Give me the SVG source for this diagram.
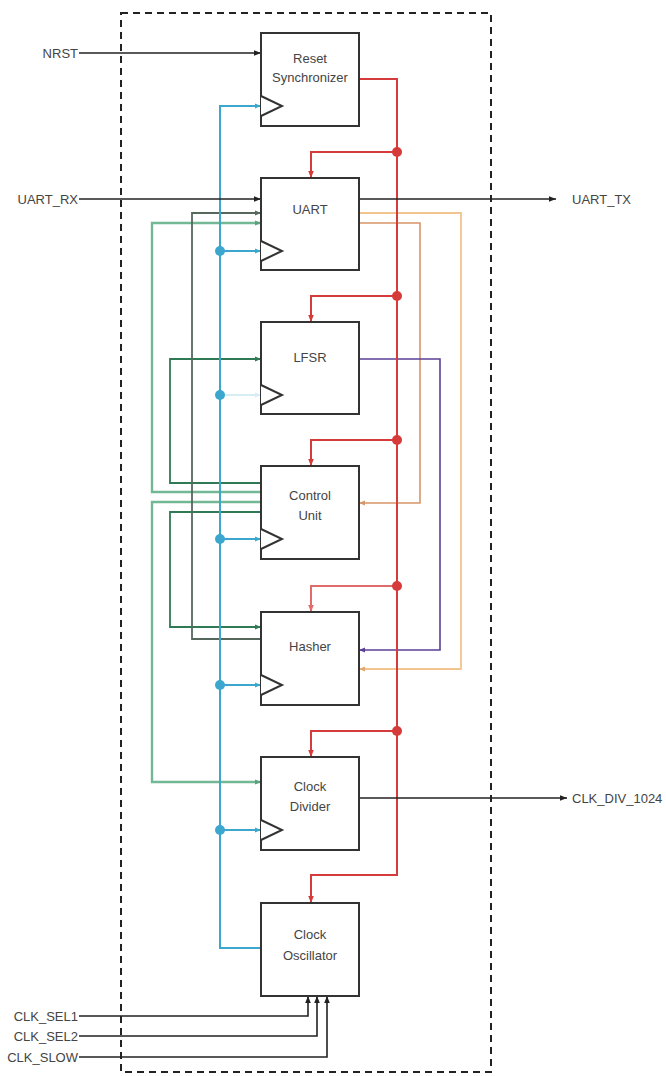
<svg xmlns="http://www.w3.org/2000/svg" width="666" height="1076" viewBox="0 0 666 1076">
<style>
.box{fill:#fff;stroke:#333;stroke-width:2}
.clk{fill:#fff;stroke:#333;stroke-width:2;stroke-linejoin:miter}
.lbl{font-family:"Liberation Sans",Arial,sans-serif;font-size:13px;fill:#444;text-anchor:middle}
.io{font-family:"Liberation Sans",Arial,sans-serif;font-size:13px;fill:#444}
.w{fill:none;stroke-linejoin:miter}
.k{stroke:#222;stroke-width:1.6}
.r{stroke:#d63b3b;stroke-width:2}
.b{stroke:#3ba7cf;stroke-width:2}
.g1{stroke:#2f7a55;stroke-width:1.8}
.g2{stroke:#72b894;stroke-width:2.4}
.g3{stroke:#56685c;stroke-width:1.8}
.o1{stroke:#f2c48e;stroke-width:1.8}
.o2{stroke:#d8956a;stroke-width:1.6}
.p{stroke:#5b3f96;stroke-width:1.6}
</style>
<defs>
<marker id="ak" viewBox="0 0 10 10" refX="10" refY="5" markerWidth="7" markerHeight="7" markerUnits="userSpaceOnUse" orient="auto"><path d="M0,1 L10,5 L0,9 z" fill="#222"/></marker>
<marker id="ar" viewBox="0 0 10 10" refX="10" refY="5" markerWidth="7" markerHeight="7" markerUnits="userSpaceOnUse" orient="auto"><path d="M0,1 L10,5 L0,9 z" fill="#d63b3b"/></marker>
<marker id="ab" viewBox="0 0 10 10" refX="10" refY="5" markerWidth="6" markerHeight="6" markerUnits="userSpaceOnUse" orient="auto"><path d="M0,1 L10,5 L0,9 z" fill="#3ba7cf"/></marker>
<marker id="ag1" viewBox="0 0 10 10" refX="10" refY="5" markerWidth="6" markerHeight="6" markerUnits="userSpaceOnUse" orient="auto"><path d="M0,1 L10,5 L0,9 z" fill="#2f7a55"/></marker>
<marker id="ag2" viewBox="0 0 10 10" refX="10" refY="5" markerWidth="6" markerHeight="6" markerUnits="userSpaceOnUse" orient="auto"><path d="M0,1 L10,5 L0,9 z" fill="#5aa07c"/></marker>
<marker id="ag3" viewBox="0 0 10 10" refX="10" refY="5" markerWidth="6" markerHeight="6" markerUnits="userSpaceOnUse" orient="auto"><path d="M0,1 L10,5 L0,9 z" fill="#56685c"/></marker>
<marker id="ao1" viewBox="0 0 10 10" refX="10" refY="5" markerWidth="6" markerHeight="6" markerUnits="userSpaceOnUse" orient="auto"><path d="M0,1 L10,5 L0,9 z" fill="#e0a870"/></marker>
<marker id="ao2" viewBox="0 0 10 10" refX="10" refY="5" markerWidth="6" markerHeight="6" markerUnits="userSpaceOnUse" orient="auto"><path d="M0,1 L10,5 L0,9 z" fill="#d8956a"/></marker>
<marker id="ap" viewBox="0 0 10 10" refX="10" refY="5" markerWidth="6" markerHeight="6" markerUnits="userSpaceOnUse" orient="auto"><path d="M0,1 L10,5 L0,9 z" fill="#5b3f96"/></marker>
</defs>
<rect width="666" height="1076" fill="#fff"/>
<rect id="boundary" x="121" y="13" width="370" height="1059" fill="none" stroke="#222" stroke-width="2" stroke-dasharray="7,5"/>

<g id="connectors">
<!-- green / left side -->
<path class="w g2" d="M261,492 H152 V223 H261" marker-end="url(#ag2)"/>
<path class="w g2" d="M261,502 H152 V782 H261" marker-end="url(#ag2)"/>
<path class="w g1" d="M261,483 H170 V359 H261" marker-end="url(#ag1)"/>
<path class="w g1" d="M261,512 H170 V627 H261" marker-end="url(#ag1)"/>
<path class="w g3" d="M261,639 H192 V213 H261" marker-end="url(#ag3)"/>
<!-- right side -->
<path class="w o1" d="M359,213 H461 V669 H359" marker-end="url(#ao1)"/>
<path class="w o2" d="M359,223 H420 V503 H359" marker-end="url(#ao2)"/>
<path class="w p" d="M359,359 H440 V650 H359" marker-end="url(#ap)"/>
<!-- clock (blue) -->
<path class="w b" d="M261,948 H220 V106 H261" marker-end="url(#ab)"/>
<path class="w b" d="M220,251 H261" marker-end="url(#ab)"/>
<path class="w b" d="M220,395 H261" marker-end="url(#ab)" opacity="0.2"/>
<path class="w b" d="M220,539 H261" marker-end="url(#ab)"/>
<path class="w b" d="M220,685 H261" marker-end="url(#ab)"/>
<path class="w b" d="M220,830 H261" marker-end="url(#ab)"/>
<g fill="#3ba7cf">
<circle cx="220" cy="251" r="5"/>
<circle cx="220" cy="395" r="5"/>
<circle cx="220" cy="539" r="5"/>
<circle cx="220" cy="685" r="5"/>
<circle cx="220" cy="830" r="5"/>
</g>
<!-- reset (red) -->
<path class="w r" d="M359,79 H397 V875 H311 V903" stroke-width="3" marker-end="url(#ar)"/>
<path class="w r" d="M397,152 H311 V178" marker-end="url(#ar)"/>
<path class="w r" d="M397,296 H311 V322" marker-end="url(#ar)"/>
<path class="w r" d="M397,440 H311 V466" marker-end="url(#ar)"/>
<path class="w r" d="M397,586 H311 V612" marker-end="url(#ar)" stroke-width="1.5" opacity="0.75"/>
<path class="w r" d="M397,731 H311 V757" marker-end="url(#ar)"/>
<g fill="#d63b3b">
<circle cx="397" cy="152" r="5"/>
<circle cx="397" cy="296" r="5"/>
<circle cx="397" cy="440" r="5"/>
<circle cx="397" cy="586" r="5"/>
<circle cx="397" cy="731" r="5"/>
</g>
<!-- black I/O -->
<path class="w k" d="M79,53 H261" marker-end="url(#ak)"/>
<path class="w k" d="M79,199 H261" marker-end="url(#ak)"/>
<path class="w k" d="M359,199 H556" marker-end="url(#ak)"/>
<path class="w k" d="M359,798 H567" marker-end="url(#ak)"/>
<path class="w k" d="M79,1016 H308 V996" marker-end="url(#ak)" stroke-width="2.2" stroke="#555"/>
<path class="w k" d="M79,1036 H317 V996" marker-end="url(#ak)"/>
<path class="w k" d="M79,1057 H327 V996" marker-end="url(#ak)"/>
</g>

<g id="io-labels">
<text class="io" x="78" y="58" text-anchor="end">NRST</text>
<text class="io" x="78" y="204" text-anchor="end">UART_RX</text>
<text class="io" x="572" y="204">UART_TX</text>
<text class="io" x="572" y="803">CLK_DIV_1024</text>
<text class="io" x="78" y="1021" text-anchor="end">CLK_SEL1</text>
<text class="io" x="78" y="1041" text-anchor="end">CLK_SEL2</text>
<text class="io" x="78" y="1062" text-anchor="end">CLK_SLOW</text>
</g>

<g id="reset-sync">
<rect class="box" x="261" y="33" width="98" height="93"/>
<path class="clk" d="M261,96 L282,106 L261,116"/>
<text class="lbl" x="310" y="63">Reset</text>
<text class="lbl" x="310" y="82" font-size="12">Synchronizer</text>
</g>
<g id="uart">
<rect class="box" x="261" y="178" width="98" height="92"/>
<path class="clk" d="M261,241 L282,251 L261,261"/>
<text class="lbl" x="310" y="214">UART</text>
</g>
<g id="lfsr">
<rect class="box" x="261" y="322" width="98" height="92"/>
<path class="clk" d="M261,385 L282,395 L261,405"/>
<text class="lbl" x="310" y="362">LFSR</text>
</g>
<g id="control-unit">
<rect class="box" x="261" y="466" width="98" height="93"/>
<path class="clk" d="M261,529 L282,539 L261,549"/>
<text class="lbl" x="310" y="500">Control</text>
<text class="lbl" x="310" y="520">Unit</text>
</g>
<g id="hasher">
<rect class="box" x="261" y="612" width="98" height="93"/>
<path class="clk" d="M261,675 L282,685 L261,695"/>
<text class="lbl" x="310" y="651">Hasher</text>
</g>
<g id="clock-divider">
<rect class="box" x="261" y="757" width="98" height="93"/>
<path class="clk" d="M261,820 L282,830 L261,840"/>
<text class="lbl" x="310" y="791">Clock</text>
<text class="lbl" x="310" y="811">Divider</text>
</g>
<g id="clock-oscillator">
<rect class="box" x="261" y="903" width="98" height="93"/>
<text class="lbl" x="310" y="939">Clock</text>
<text class="lbl" x="310" y="960">Oscillator</text>
</g>
</svg>
